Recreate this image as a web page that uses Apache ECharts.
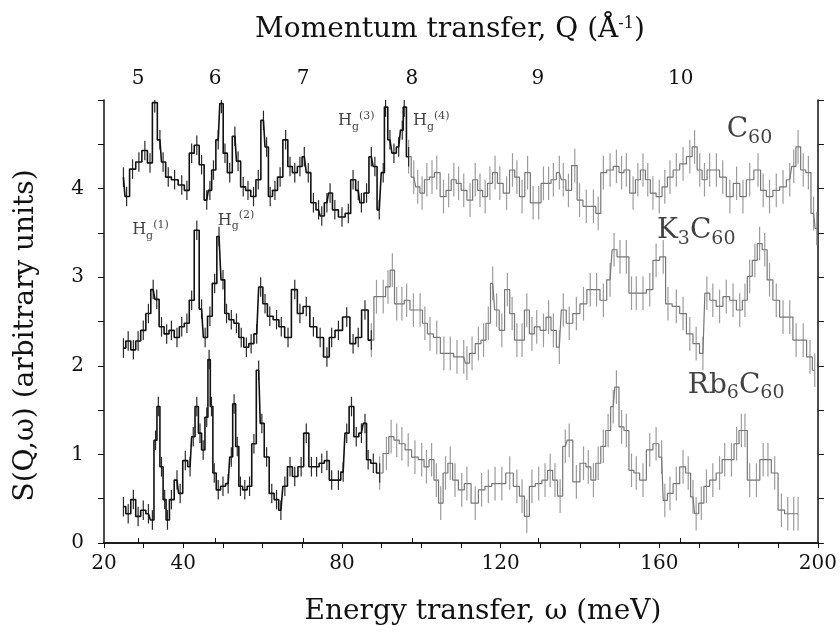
<!DOCTYPE html>
<html>
<head>
<meta charset="utf-8">
<script src="https://cdn.jsdelivr.net/npm/echarts@6/dist/echarts.min.js"></script>
<style>
  html, body { margin: 0; padding: 0; background: #fff; }
  #main { width: 840px; height: 635px; }
</style>
</head>
<body>
<div id="main"></div>
<script>
// [energy (meV), S(Q,w)]
const c60 = [
  [24.9,4.13],[25.7,3.91],[27.2,4.22],[28.8,4.30],[30.3,4.43],[31.6,4.29],[32.8,4.97],[34.1,4.55],[34.9,4.30],
  [36.2,4.13],[37.8,4.10],[39.6,4.04],[40.9,3.98],[42.1,4.40],[43.4,4.49],[44.6,4.27],[45.9,3.87],[46.7,3.98],
  [47.6,4.21],[48.8,4.55],[49.6,4.96],[50.5,4.40],[51.7,4.18],[53.0,4.59],[53.8,4.31],[55.1,4.02],[56.3,3.98],
  [57.7,3.91],[58.9,4.10],[60.2,4.77],[61.0,4.47],[61.9,3.91],[63.1,3.98],[64.4,4.13],[65.8,4.55],[66.9,4.25],
  [68.1,4.18],[69.4,4.25],[70.5,4.36],[71.5,4.18],[72.8,3.84],[74.1,3.76],[74.9,3.69],[76.2,3.84],[77.0,3.95],
  [78.2,3.76],[80.0,3.68],[81.6,3.72],[82.8,4.10],[84.1,3.98],[84.9,3.84],[86.2,3.95],[87.4,4.36],[88.3,4.25],
  [89.4,3.76],[90.4,4.18],[91.0,4.92],[92.1,4.55],[93.1,4.40],[94.3,4.47],[95.2,4.66],[95.7,4.92],[96.8,4.36],
  [98.1,4.13],[99.1,4.02],[100.2,3.95],[101.4,4.10],[102.7,4.13],[103.9,4.18],[105.6,3.91],[106.9,3.98],
  [108.2,4.10],[109.4,4.06],[110.7,3.98],[112.3,3.87],[113.6,4.10],[114.8,3.98],[116.1,3.91],[117.3,4.06],
  [118.6,4.18],[119.8,4.06],[121.5,3.95],[123.0,4.21],[124.1,4.13],[125.4,3.91],[126.8,4.18],[128.2,3.84],
  [129.6,3.84],[130.8,4.06],[132.1,4.06],[133.3,4.10],[134.8,4.18],[135.8,4.10],[137.1,3.98],[138.7,4.26],
  [139.9,3.87],[141.6,3.80],[143.4,3.80],[144.6,3.72],[145.9,4.18],[147.6,4.21],[149.2,4.25],[150.5,4.18],
  [151.7,4.21],[153.4,3.95],[154.6,4.10],[155.9,4.21],[157.1,4.10],[158.4,3.95],[160.0,3.91],[161.4,4.02],
  [162.7,4.13],[164.3,4.21],[166.0,4.28],[167.7,4.36],[168.9,4.47],[170.2,4.21],[171.4,4.10],[172.7,4.21],
  [174.4,4.21],[176.0,4.13],[177.8,3.91],[179.5,4.06],[181.1,3.91],[182.8,4.10],[184.9,4.21],[186.2,3.98],
  [187.8,3.91],[189.5,3.98],[191.2,4.02],[192.9,4.10],[193.9,4.25],[195.0,4.47],[196.3,4.21],[197.6,4.18],
  [198.9,3.72],[199.7,3.55]
];
const k3c60 = [
  [24.9,2.20],[26.1,2.28],[27.4,2.18],[28.6,2.28],[29.9,2.40],[31.2,2.59],[32.4,2.86],[33.3,2.75],[34.5,2.44],
  [35.8,2.36],[37.0,2.40],[38.4,2.32],[39.6,2.44],[40.9,2.48],[42.1,2.74],[43.4,3.53],[44.6,2.64],[45.5,2.32],
  [46.7,2.56],[47.9,2.93],[49.0,3.46],[50.0,2.97],[50.9,2.59],[52.1,2.52],[53.4,2.48],[54.6,2.32],[55.9,2.21],
  [57.1,2.25],[58.5,2.36],[59.5,2.89],[60.6,2.70],[61.8,2.56],[63.5,2.52],[64.7,2.44],[66.4,2.32],[68.1,2.86],
  [69.4,2.59],[71.0,2.67],[72.8,2.44],[74.5,2.32],[76.2,2.10],[77.4,2.32],[79.1,2.40],[81.2,2.55],[82.8,2.25],
  [84.1,2.32],[85.8,2.63],[87.4,2.29],[88.7,2.78],[90.4,2.78],[91.6,2.89],[92.7,3.08],[93.8,2.70],[95.1,2.70],
  [96.3,2.74],[98.0,2.63],[99.7,2.63],[100.9,2.48],[102.2,2.36],[103.9,2.32],[105.7,2.14],[107.3,2.14],
  [109.0,2.10],[110.7,2.10],[111.5,2.03],[112.8,2.14],[114.4,2.25],[115.7,2.29],[116.9,2.48],[118.0,2.93],
  [119.0,2.63],[120.3,2.40],[121.7,2.86],[122.9,2.59],[124.1,2.29],[125.4,2.29],[126.6,2.63],[127.9,2.36],
  [129.1,2.44],[130.8,2.40],[132.1,2.55],[133.3,2.40],[134.8,2.21],[135.8,2.63],[137.3,2.48],[139.1,2.59],
  [140.9,2.70],[142.6,2.86],[144.2,2.86],[145.9,2.74],[147.6,2.97],[148.6,3.31],[150.1,3.23],[151.7,3.23],
  [153.0,2.82],[154.2,2.82],[155.9,2.82],[157.6,2.86],[159.2,3.19],[161.0,3.23],[162.2,2.70],[164.3,2.67],
  [166.0,2.59],[167.7,2.36],[169.3,2.25],[171.0,2.14],[172.0,2.82],[173.5,2.74],[175.2,2.67],[176.9,2.78],
  [178.6,2.74],[180.3,2.63],[181.6,2.74],[182.8,3.01],[184.1,3.19],[185.3,3.38],[186.6,3.31],[187.8,2.97],
  [189.5,2.74],[191.2,2.55],[192.9,2.55],[194.5,2.29],[196.3,2.29],[198.0,2.10],[199.2,1.95]
];
const rb6c60 = [
  [24.9,0.41],[26.1,0.33],[27.4,0.49],[28.6,0.30],[29.9,0.37],[31.2,0.33],[32.2,0.26],[33.0,1.16],[33.7,1.54],
  [34.5,0.86],[35.3,0.49],[36.0,0.26],[37.0,0.49],[38.4,0.71],[39.2,0.56],[40.5,0.93],[41.7,0.86],[42.5,1.20],
  [43.4,1.54],[44.2,1.24],[45.0,1.05],[45.9,1.42],[46.5,2.07],[47.1,1.54],[47.8,0.79],[48.8,0.60],[50.0,0.64],
  [51.3,0.67],[52.1,0.97],[52.8,1.57],[53.6,1.09],[54.4,0.64],[55.5,0.60],[56.7,0.64],[57.8,1.12],[59.0,1.95],
  [59.8,1.35],[61.0,0.97],[62.3,0.56],[63.5,0.49],[64.6,0.37],[65.6,0.64],[66.9,0.86],[68.1,0.75],[69.7,0.86],
  [71.0,1.24],[72.3,0.86],[73.6,0.86],[74.9,0.90],[76.2,0.93],[77.4,0.71],[79.1,0.71],[80.3,0.80],[81.2,1.24],
  [82.4,1.54],[83.6,1.20],[84.9,1.24],[85.8,1.35],[86.6,0.94],[87.9,0.90],[89.5,0.79],[91.2,1.01],[92.4,1.20],
  [93.8,1.16],[95.1,1.12],[96.7,1.05],[98.4,0.97],[100.1,0.94],[101.3,0.86],[102.6,0.94],[103.8,0.71],
  [104.9,0.45],[106.1,0.79],[107.3,0.90],[108.5,0.71],[110.2,0.60],[111.5,0.67],[113.6,0.45],[115.2,0.60],
  [116.9,0.64],[118.6,0.67],[120.3,0.67],[122.3,0.79],[124.1,0.64],[125.4,0.53],[126.6,0.30],[127.9,0.64],
  [129.6,0.67],[131.2,0.71],[132.5,0.82],[133.7,0.71],[135.0,0.53],[136.3,1.09],[137.3,1.16],[139.1,0.69],
  [140.9,0.90],[142.1,0.86],[143.4,0.71],[144.6,0.90],[145.9,1.09],[147.1,1.27],[148.4,1.54],[149.2,1.76],
  [150.5,1.31],[151.7,1.27],[153.0,0.82],[154.2,0.79],[155.9,0.71],[157.6,1.05],[159.2,1.12],[160.6,0.97],
  [161.4,0.48],[162.7,0.56],[164.3,0.67],[166.0,0.86],[167.3,0.79],[168.5,0.52],[169.3,0.33],[170.6,0.45],
  [171.9,0.64],[173.5,0.71],[175.2,0.79],[176.5,0.94],[178.2,0.94],[179.5,1.12],[180.7,1.27],[181.6,1.27],
  [182.8,0.71],[184.5,0.71],[186.2,0.94],[187.4,0.94],[189.1,0.79],[190.8,0.37],[192.4,0.33],[193.9,0.33],
  [195.0,0.33]
];

// where the fine (dark) low-energy data stop and the coarse (grey) data begin
const darkUntil = { c60: 97, k3c60: 88, rb6c60: 90 };
const errDark = 0.11;
const errGray = 0.19;

// bottom axis
const energyLabels = [20, 40, 80, 120, 160, 200];
// top axis: momentum transfer ticks, placed at the energy they sit over
const qTickEnergy = [28.6, 48.0, 70.2, 97.6, 129.4, 165.4];
const qTickLabel = ['5', '6', '7', '8', '9', '10'];

// sample names and Hg mode labels
const notes = [
  { t: '{m|C}{s|60}', at: [177.0, 4.66] },
  { t: '{m|K}{s|3}{m|C}{s|60}', at: [159.4, 3.52] },
  { t: '{m|Rb}{s|6}{m|C}{s|60}', at: [167.2, 1.78] },
  { t: '{h|H}{hs|g}{hp|(1)}', at: [27.1, 3.53] },
  { t: '{h|H}{hs|g}{hp|(2)}', at: [48.7, 3.64] },
  { t: '{h|H}{hs|g}{hp|(3)}', at: [79.0, 4.76] },
  { t: '{h|H}{hs|g}{hp|(4)}', at: [97.9, 4.76] }
];

const serif = 'DejaVu Serif';
const ink = '#111';

function split(data, cut) {
  let d = data.filter(p => p[0] <= cut);
  let g = data.filter(p => p[0] >= d[d.length - 1][0]);
  return [d, g];
}

function stepSeries(data, color, width) {
  return {
    type: 'line', step: 'middle', data: data, symbol: 'none',
    lineStyle: { color: color, width: width }, silent: true, z: 3
  };
}

function errSeries(data, err, color) {
  return {
    type: 'custom', silent: true, z: 2, clip: true,
    data: data.map(p => [p[0], p[1], err]),
    renderItem: function (params, api) {
      let x = api.value(0), y = api.value(1), e = api.value(2);
      let lo = api.coord([x, y - e]);
      let hi = api.coord([x, y + e]);
      return {
        type: 'line',
        shape: { x1: lo[0], y1: lo[1], x2: hi[0], y2: hi[1] },
        style: { stroke: color, lineWidth: 1.2 }
      };
    }
  };
}

let series = [];
[[c60, darkUntil.c60], [k3c60, darkUntil.k3c60], [rb6c60, darkUntil.rb6c60]].forEach(([data, cut]) => {
  let [d, g] = split(data, cut);
  series.push(errSeries(g, errGray, '#9c9c9c'));
  series.push(errSeries(d, errDark, '#2a2a2a'));
  series.push(stepSeries(g, '#777', 1.2));
  series.push(stepSeries(d, '#111', 1.6));
});

series.push({
  type: 'scatter', symbolSize: 0, silent: true, z: 5,
  data: notes.map(n => ({ value: n.at, label: { formatter: n.t } })),
  label: {
    show: true, position: 'right', distance: 0, color: ink,
    rich: {
      m: { fontFamily: serif, fontSize: 28, lineHeight: 34, color: ink },
      s: { fontFamily: serif, fontSize: 19, lineHeight: 19, verticalAlign: 'bottom', color: ink },
      h: { fontFamily: serif, fontSize: 16, lineHeight: 22, color: ink },
      hs: { fontFamily: serif, fontSize: 11, lineHeight: 11, verticalAlign: 'bottom', color: ink },
      hp: { fontFamily: serif, fontSize: 11, lineHeight: 11, verticalAlign: 'top', color: ink }
    }
  }
});

let chart = echarts.init(document.getElementById('main'));
const axisLine = { show: true, lineStyle: { color: ink, width: 1.5 } };
chart.setOption({
  animation: false,
  backgroundColor: '#fff',
  grid: { left: 104, right: 22, top: 100, bottom: 92 },
  xAxis: [
    {
      type: 'value', position: 'bottom', min: 20, max: 200, interval: 10,
      name: 'Energy transfer, ω (meV)', nameLocation: 'middle', nameGap: 55,
      nameTextStyle: { fontFamily: serif, fontSize: 28, color: ink, padding: [0, 0, 0, 44] },
      axisLine: axisLine,
      axisTick: { show: true, inside: false, length: 5, lineStyle: { color: ink } },
      axisLabel: {
        fontFamily: serif, fontSize: 20, color: ink, margin: 11,
        showMinLabel: true, showMaxLabel: true,
        formatter: v => energyLabels.includes(v) ? String(v) : ''
      },
      splitLine: { show: false }
    },
    {
      type: 'value', position: 'top', min: 20, max: 200,
      name: 'Momentum transfer, Q (Å{sup|-1})', nameLocation: 'middle', nameGap: 56,
      nameTextStyle: {
        fontFamily: serif, fontSize: 28, color: ink, padding: [0, 22, 0, 0],
        rich: { sup: { fontFamily: serif, fontSize: 16, verticalAlign: 'top', lineHeight: 16, color: ink } }
      },
      axisLine: axisLine,
      axisTick: { show: true, inside: false, length: 5, customValues: qTickEnergy, lineStyle: { color: ink } },
      axisLabel: {
        fontFamily: serif, fontSize: 20, color: ink, margin: 11,
        customValues: qTickEnergy,
        formatter: v => {
          let i = qTickEnergy.findIndex(e => Math.abs(e - v) < 0.01);
          return i >= 0 ? qTickLabel[i] : '';
        }
      },
      splitLine: { show: false }
    }
  ],
  yAxis: [
    {
      type: 'value', position: 'left', min: 0, max: 5, interval: 0.5,
      name: 'S(Q,ω) (arbitrary units)', nameLocation: 'middle', nameGap: 64,
      nameTextStyle: { fontFamily: serif, fontSize: 28, color: ink, padding: [0, 28, 0, 0] },
      axisLine: axisLine,
      axisTick: { show: true, inside: false, length: 6, lineStyle: { color: ink } },
      axisLabel: {
        fontFamily: serif, fontSize: 20, color: ink, margin: 20,
        formatter: v => (Number.isInteger(v) && v < 5) ? String(v) : ''
      },
      splitLine: { show: false }
    },
    {
      type: 'value', position: 'right', min: 0, max: 5, interval: 0.5,
      axisLine: axisLine,
      axisTick: { show: true, inside: false, length: 6, lineStyle: { color: ink } },
      axisLabel: { show: false },
      splitLine: { show: false }
    }
  ],
  series: series
});
</script>
</body>
</html>
